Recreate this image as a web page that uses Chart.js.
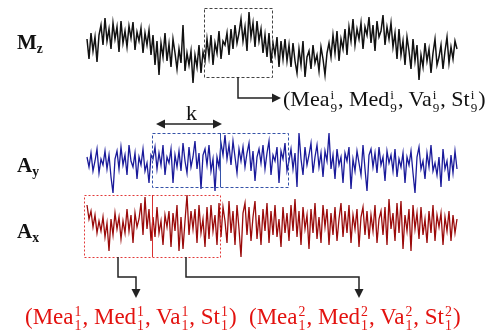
<!DOCTYPE html>
<html>
<head>
<meta charset="utf-8">
<script src="https://cdn.jsdelivr.net/npm/chart.js@4/dist/chart.umd.min.js"></script>
<style>
  body { margin: 0; background: #fff; }
  #wrap { position: relative; width: 496px; height: 335px; overflow: hidden; }
  canvas { display: block; }
  .txt { position: absolute; font-family: "Liberation Serif", "Times New Roman", serif; white-space: nowrap; line-height: 24px; }
  .lab { font-weight: bold; font-size: 21px; color: #111; }
  .lab sub { font-size: 0.65em; vertical-align: -0.3em; }
  .feat { font-size: 22px; }
  .red { font-size: 23px; color: #e3120f; }
  .ss { display: inline-block; font-size: 0.6em; line-height: 1; vertical-align: -0.45em; margin: 0 1px; }
  .ss span { display: block; }
</style>
</head>
<body>
<div id="wrap">
  <canvas id="c" width="496" height="335"></canvas>
  <div class="txt lab" style="left:17px; top:30px">M<sub>z</sub></div>
  <div class="txt lab" style="left:17px; top:153px">A<sub>y</sub></div>
  <div class="txt lab" style="left:17px; top:219px">A<sub>x</sub></div>
  <div class="txt feat" style="left:186px; top:101px; color:#111">k</div>
  <div class="txt feat" style="left:283px; top:87px; color:#111">(Mea<span class="ss"><span>i</span><span>9</span></span>, Med<span class="ss"><span>i</span><span>9</span></span>, Va<span class="ss"><span>i</span><span>9</span></span>, St<span class="ss"><span>i</span><span>9</span></span>)</div>
  <div class="txt red" style="left:25px; top:305px">(Mea<span class="ss"><span>1</span><span>1</span></span>, Med<span class="ss"><span>1</span><span>1</span></span>, Va<span class="ss"><span>1</span><span>1</span></span>, St<span class="ss"><span>1</span><span>1</span></span>)</div>
  <div class="txt red" style="left:249px; top:305px">(Mea<span class="ss"><span>2</span><span>1</span></span>, Med<span class="ss"><span>2</span><span>1</span></span>, Va<span class="ss"><span>2</span><span>1</span></span>, St<span class="ss"><span>2</span><span>1</span></span>)</div>
</div>
<script>
// signal samples (relative amplitude, up = positive)
const mzValues = [
  8, -12, 14, -4, 10, -15, 12,
  22, 2, 29, 6, 18, -2, 24, 8, 20, -5, 26, 4, 16, 0, 21, 9, 25, -3, 15, 6, 19, -6, 14, 2, 17,
  -8, 12, -18, 6, -28, 4, -10, 14, -14, 3, -20, 8, -6,
  -22, -2, -16, 22, -24, -6, -18, -4, -36, -8, -20, 2, -26, -5,
  -14, 8, -10, 12, -18, 4, -6, 16, -12, 6, 2, 14, -8,
  18, -2, 22, 4, 14, 28, 6, 20, -4, 35, 10, 24, 0, 26, 6, 18, -6,
  12, -10, 14, -16, 4, -8, 10, -20, 6, -12, 8, -14, 2,
  -20, 4, -14, -26, -2, -18, 6, -30, -10, -4, -22, 2, -16, -8, -24, 0, -12, -28, -6, 4,
  -10, 12, -6, 16, -14, 8, -2, 18, -8, 20,
  6, 28, 2, 18, 8, 24, -2, 20, 12, 30, 4, 22, -4, 26, 10, 16, 32, 2, 20, 8, 24, 0,
  14, -12, 18, -8, 6, -18, 10, -4, -22, 8, -14, 2, -33,
  -8, -20, 4, -14, -2, -26, -6, 8, -18, -10, 2, -22, -4, 10, -16, 0, -12, 6, -2
];
const ayValues = [
  6, -4, 10, -8, 2, 14, -10, 4, -2, 12, -6, 8, -14, -30, 4,
  12, -6, 16, -2, 8, -12, 18, 2, -4, 10, -16, 6, -2, 14, -8, 0, -20, 8,
  4, 16, -6, 10, -2, 18, -12, 6, 0, 14, -20, 8, -4, 12, -8, 20, 2, -10, 16, -4, 6, 22, -6, 10, -26, 8, 14, -2, 18, -8, 4, -28, 6, -4,
  20, 8, 28, 4, 18, -2, 22, 6, -10, 14, 2, 16, -4, 10, 20, -8, 12, -18, 6, 14, 0, 18, -6, 10, 22, -12, 8, 2, 16, -20, 12, 4, 20, -8,
  2, 14, -6, 10, -24, 30, 4, -12, 16, -2, 8, 20, -10, 6, 18, -4, 10, -14, 12, 2, 30, -6, 8, -16, 14, -2, 6, -20, 10, 2, 16, -26, 4, -8, 12, 0, -12, 18, -6, -28,
  8, 14, -4, 10, -10, 16, -2, 6, -18, 12, 0, 8, -8, 14, -14, 4, -4, 10, -20, 6, -2, 12, -10, -30, 6, 16, -6, 2, -16, 10, -4, 18, -8, 0, -12, 6, -24, 14, -6, 2, -18, 8, -10, 12, -6
];
const axValues = [
  20, 6, 14, -2, 10, -8, 4, -6, 8, -12, 2, -26, 6, -10, 12,
  -4, 8, -14, 4, -8, 16, -6, 10, -18, 12, -2, 6, 22, -10, 28,
  -4, 16, -16, 8, -12, 18, -8, 4, -20, 10, -2, 14, -22, 12, -6, 20, -26, 8, -24, 4,
  30, -10, 14, -4, 16, -18, 20, -8, 6, -22, 18, -14, 20, -6, 10, -20,
  22, -12, 18, 4, -18, 24, -8, 14, -20, 20, -4, -32, 12, 22, -10, 18, -16, 8, 24, -14, 10, -20, 16, -6, 22, -18, 14, -10, 20, -12, 6, -22, 18, -8, 12,
  -16, 20, -6, 26, -12, 14, -20, 18, -4, 10, -24, 16, -8, 22, -14, 8, -18, 20, -2, 16, -20, 12, -10, 18, -16, 6, 22, -12, 14, -8, 20, -18, 10, -4, 16, -22, 8, 18, -10, 14,
  -14, 10, -6, 20, -18, 6, 14, -10, 18, -20, 26, -4, 12, -16, 22, -8, 24, -24, 10, -6, 16, -26, 20, -4, 12, -14, 18, -10, 6, -18, 14, -8, 20, -16, 10, -2, 12, -20, 8, -6, 14, -16, 10, -8, 6
];

// sliding windows (start sample, length k)
const winLen = 34;
const mzWindows = [58.5];
const ayWindows = [32.5, 66.5];
const axWindows = [-1.5, 32.5];

function toPoints(arr) {
  return arr.map(function(v, i) { return { x: i / (arr.length - 1), y: v }; });
}

// each channel gets its own band on the page
function band(center) {
  return { type: 'linear', display: false, min: center - 335, max: center };
}

function dashedBox(ctx, x0, y0, x1, y1, color, dash) {
  ctx.save();
  ctx.strokeStyle = color;
  ctx.lineWidth = 1;
  ctx.setLineDash(dash);
  ctx.strokeRect(Math.round(x0) + 0.5, Math.round(y0) + 0.5, Math.round(x1 - x0), Math.round(y1 - y0));
  ctx.restore();
}

function arrowHead(ctx, x, y, dir, size) {
  ctx.beginPath();
  if (dir === 'down') {
    ctx.moveTo(x, y); ctx.lineTo(x - size / 2, y - size); ctx.lineTo(x + size / 2, y - size);
  } else if (dir === 'right') {
    ctx.moveTo(x, y); ctx.lineTo(x - size, y - size / 2); ctx.lineTo(x - size, y + size / 2);
  } else {
    ctx.moveTo(x, y); ctx.lineTo(x + size, y - size / 2); ctx.lineTo(x + size, y + size / 2);
  }
  ctx.closePath();
  ctx.fill();
}

const overlay = {
  id: 'overlay',
  afterDatasetsDraw: function(chart) {
    const ctx = chart.ctx;
    const s = chart.scales;
    const X = function(arr, i) { return s.x.getPixelForValue(i / (arr.length - 1)); };

    // Mz window
    const mzL = X(mzValues, mzWindows[0]);
    const mzR = X(mzValues, mzWindows[0] + winLen);
    const mzT = s.yMz.getPixelForValue(39);
    const mzB = s.yMz.getPixelForValue(-30);
    dashedBox(ctx, mzL, mzT, mzR, mzB, '#444', [3, 2]);

    // Ay windows
    const ayL = X(ayValues, ayWindows[0]);
    const ayM = X(ayValues, ayWindows[1]);
    const ayR = X(ayValues, ayWindows[1] + winLen);
    const ayT = s.yAy.getPixelForValue(30);
    const ayB = s.yAy.getPixelForValue(-24);
    dashedBox(ctx, ayL, ayT, ayR, ayB, '#3552a8', [3, 2]);
    ctx.save();
    ctx.strokeStyle = '#3552a8';
    ctx.lineWidth = 1;
    ctx.beginPath();
    ctx.moveTo(Math.round(ayM) + 0.5, ayT); ctx.lineTo(Math.round(ayM) + 0.5, ayB);
    ctx.stroke();
    ctx.restore();

    // Ax windows
    const axL = X(axValues, axWindows[0]);
    const axM = X(axValues, axWindows[1]);
    const axR = X(axValues, axWindows[1] + winLen);
    const axT = s.yAx.getPixelForValue(30);
    const axB = s.yAx.getPixelForValue(-32);
    dashedBox(ctx, axL, axT, axR, axB, '#e23a3a', [2, 2]);
    ctx.save();
    ctx.strokeStyle = '#d83030';
    ctx.lineWidth = 1;
    ctx.beginPath();
    ctx.moveTo(Math.round(axM) + 0.5, axT); ctx.lineTo(Math.round(axM) + 0.5, axB);
    ctx.stroke();
    ctx.restore();

    // connectors
    ctx.save();
    ctx.strokeStyle = '#222';
    ctx.fillStyle = '#222';
    ctx.lineWidth = 1.5;

    // k arrow over first Ay window
    const ky = ayT - 9;
    ctx.beginPath();
    ctx.moveTo(ayL + 10, ky); ctx.lineTo(ayM - 4, ky);
    ctx.stroke();
    arrowHead(ctx, ayL + 4, ky, 'left', 9);
    arrowHead(ctx, ayM + 2, ky, 'right', 9);

    // Mz window -> features
    const mzC = (mzL + mzR) / 2;
    const mzY = mzB + 21;
    ctx.beginPath();
    ctx.moveTo(mzC, mzB); ctx.lineTo(mzC, mzY); ctx.lineTo(mzC + 36, mzY);
    ctx.stroke();
    arrowHead(ctx, mzC + 43, mzY, 'right', 9);

    // Ax windows -> features
    const elbow = axB + 20;
    const c1 = (axL + axM) / 2;
    const c2 = (axM + axR) / 2;
    ctx.beginPath();
    ctx.moveTo(c1, axB); ctx.lineTo(c1, elbow); ctx.lineTo(c1 + 18, elbow); ctx.lineTo(c1 + 18, elbow + 13);
    ctx.moveTo(c2, axB); ctx.lineTo(c2, elbow); ctx.lineTo(c2 + 173, elbow); ctx.lineTo(c2 + 173, elbow + 13);
    ctx.stroke();
    arrowHead(ctx, c1 + 18, elbow + 21, 'down', 9);
    arrowHead(ctx, c2 + 173, elbow + 21, 'down', 9);
    ctx.restore();
  }
};

new Chart(document.getElementById('c'), {
  type: 'line',
  data: {
    datasets: [
      { data: toPoints(mzValues), yAxisID: 'yMz', borderColor: '#111111', borderWidth: 1.5 },
      { data: toPoints(ayValues), yAxisID: 'yAy', borderColor: '#1a1a9a', borderWidth: 1.3 },
      { data: toPoints(axValues), yAxisID: 'yAx', borderColor: '#9a0a0a', borderWidth: 1.3 }
    ]
  },
  options: {
    responsive: false,
    animation: false,
    parsing: false,
    layout: { padding: 0 },
    elements: { point: { radius: 0 }, line: { tension: 0 } },
    plugins: { legend: { display: false }, tooltip: { enabled: false } },
    scales: {
      x: { type: 'linear', display: false, min: -87 / 370, max: (496 - 87) / 370 },
      yMz: band(47),
      yAy: band(163),
      yAx: band(225)
    }
  },
  plugins: [overlay]
});
</script>
</body>
</html>
